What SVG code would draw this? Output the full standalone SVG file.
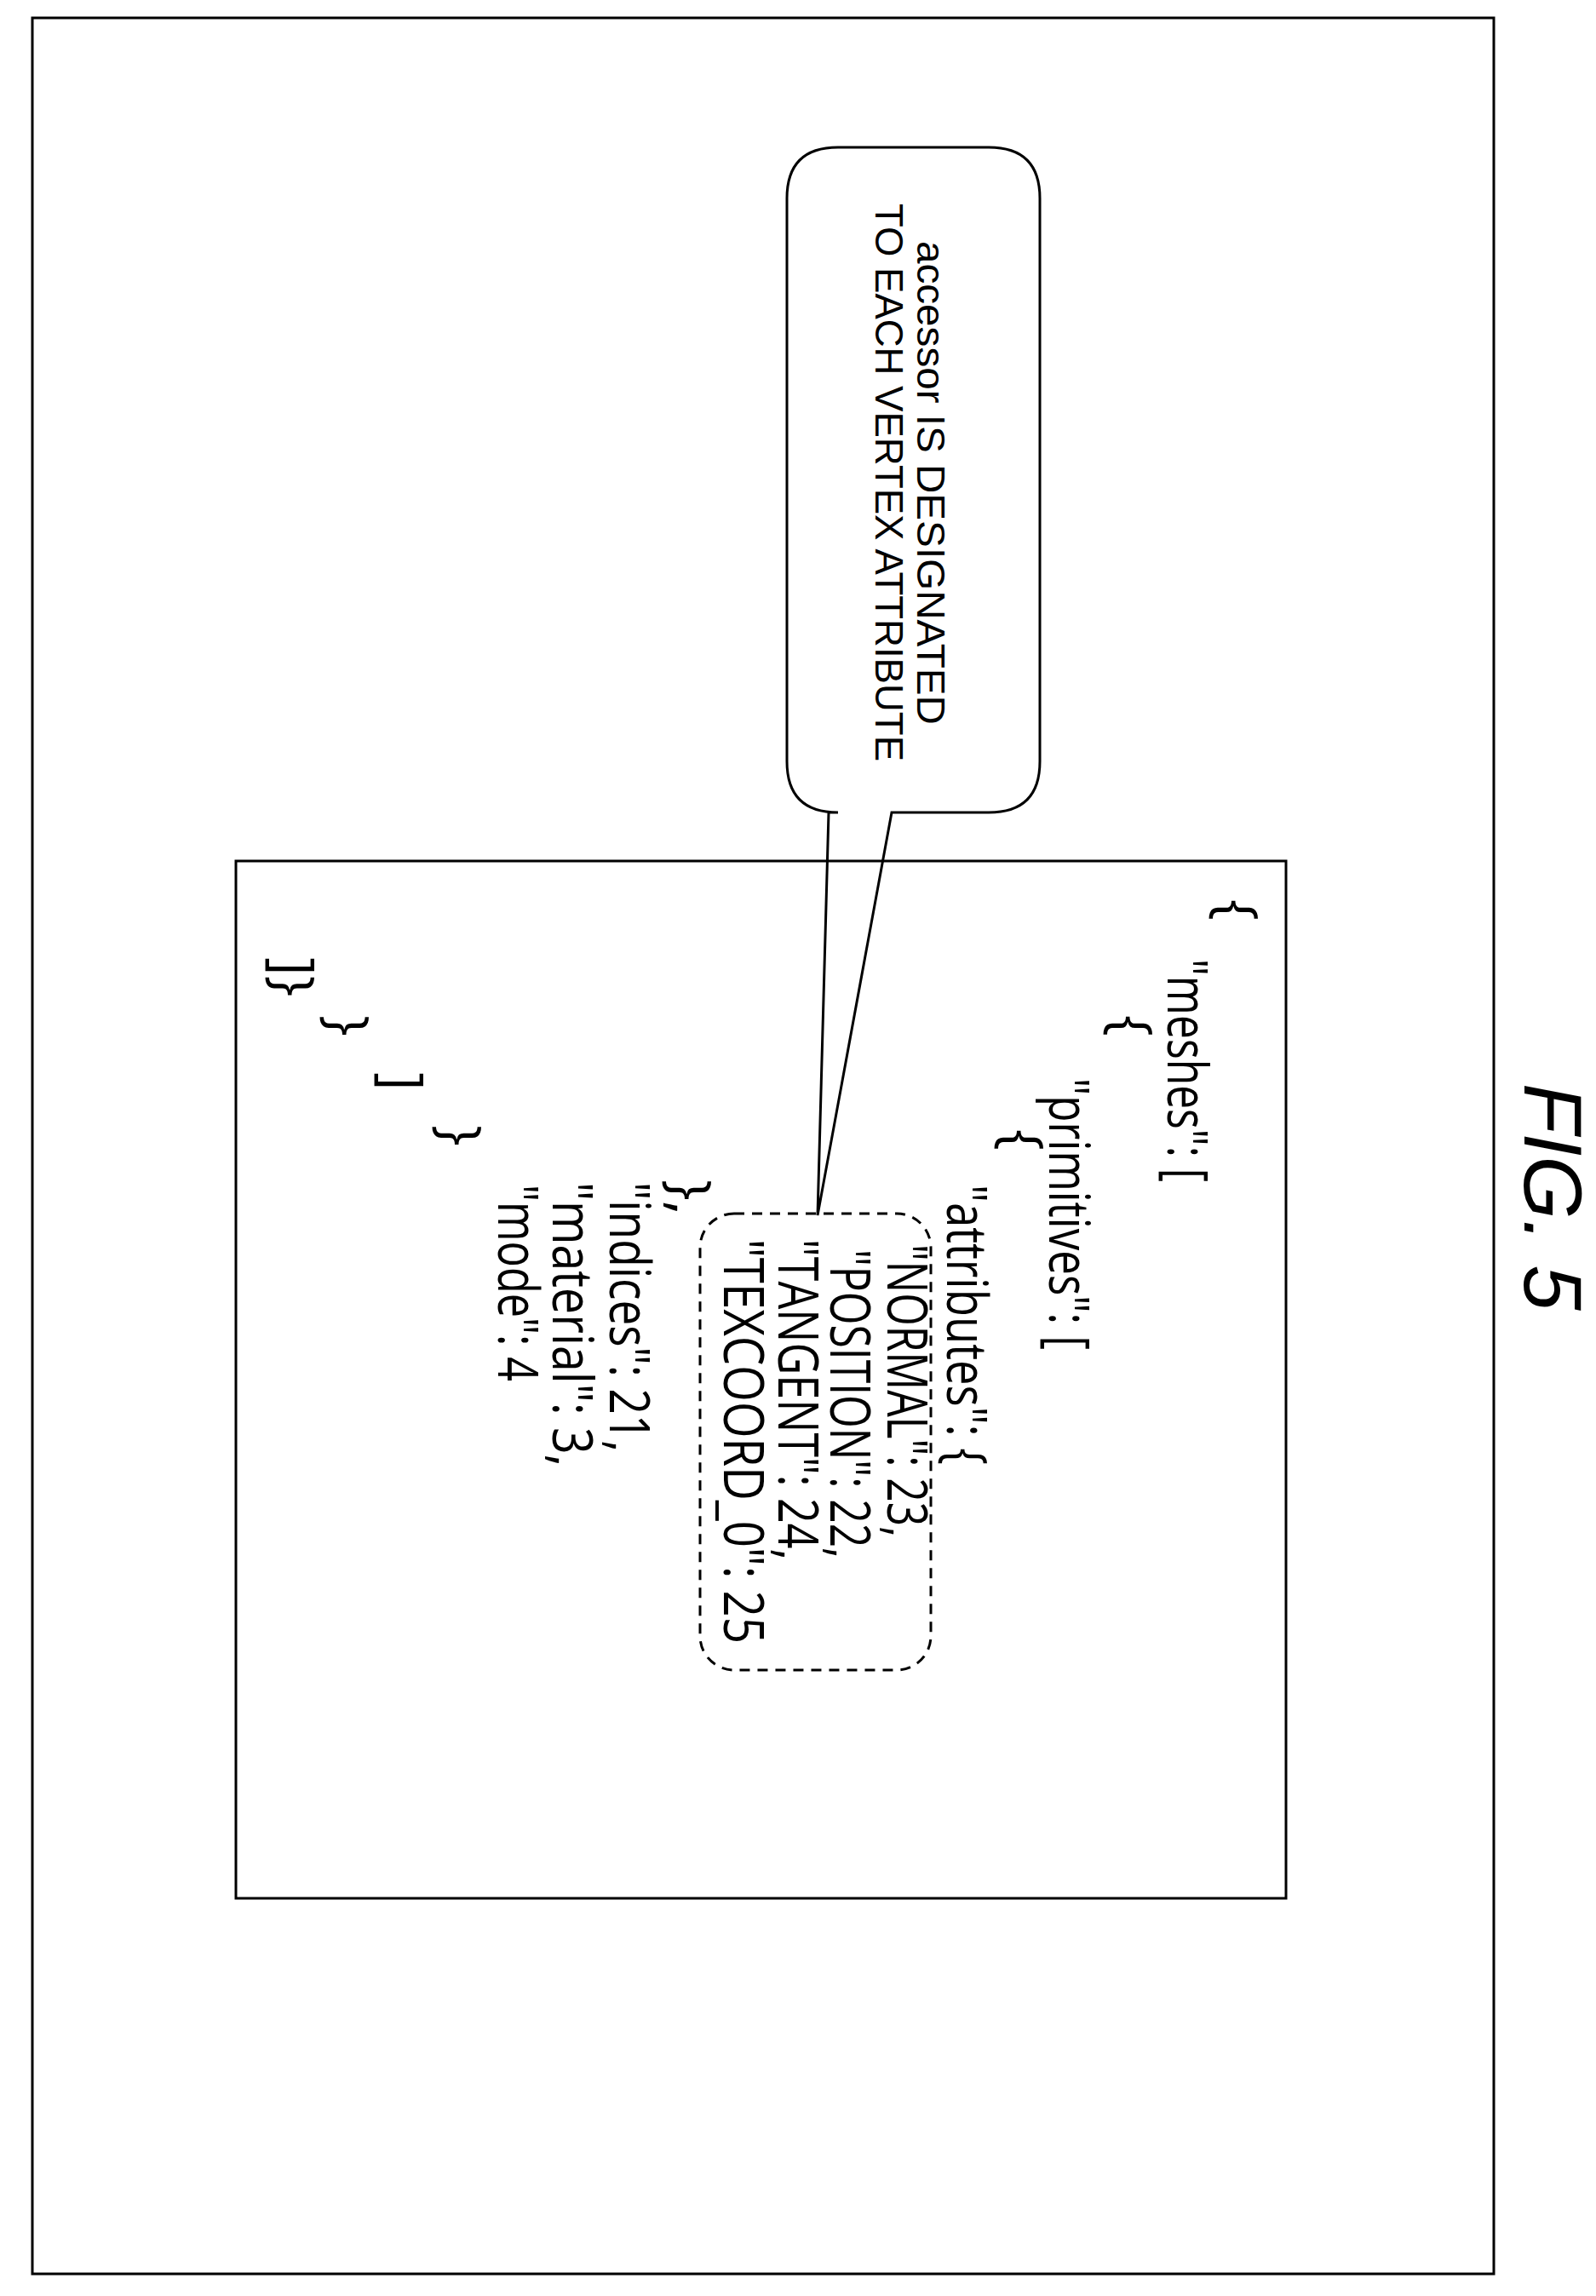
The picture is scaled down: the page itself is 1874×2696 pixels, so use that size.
<svg xmlns="http://www.w3.org/2000/svg" width="1874" height="2696" viewBox="0 0 1874 2696">
<style>
.c{font-family:"Open Sans","DejaVu Sans",sans-serif;font-size:66px;fill:#000}
.n{font-family:"Liberation Sans",Arial,sans-serif;font-size:46px;fill:#000}
.ln{fill:none;stroke:#000;stroke-width:3}
</style>
<rect width="1874" height="2696" fill="#fff"/>
<rect class="ln" x="38" y="21" width="1716" height="2649"/>
<g id="fig"><text transform="translate(1790,1272) rotate(90)" style="font-family:'Liberation Sans',Arial,sans-serif;font-style:italic;font-size:96px">FIG. 5</text></g>
<g id="code-box">
<rect class="ln" x="277" y="1011" width="1233" height="1218"/>
<g class="c">
<text transform="translate(1430,1056) rotate(90)">{</text>
<text transform="translate(1371,1126) rotate(90)" textLength="262" lengthAdjust="spacingAndGlyphs">"meshes": [</text>
<text transform="translate(1306,1192) rotate(90)">{</text>
<text transform="translate(1232,1266) rotate(90)" textLength="319" lengthAdjust="spacingAndGlyphs">"primitives": [</text>
<text transform="translate(1178,1326) rotate(90)">{</text>
<text transform="translate(1112,1391) rotate(90)" textLength="329" lengthAdjust="spacingAndGlyphs">"attributes": {</text>
<text transform="translate(1042,1461) rotate(90)" textLength="344" lengthAdjust="spacingAndGlyphs">"NORMAL": 23,</text>
<text transform="translate(975,1467) rotate(90)" textLength="363" lengthAdjust="spacingAndGlyphs">"POSITION": 22,</text>
<text transform="translate(914,1455) rotate(90)" textLength="377" lengthAdjust="spacingAndGlyphs">"TANGENT": 24,</text>
<text transform="translate(850,1455) rotate(90)" textLength="475" lengthAdjust="spacingAndGlyphs">"TEXCOORD_0": 25</text>
<text transform="translate(788,1385) rotate(90)">},</text>
<text transform="translate(716,1388) rotate(90)" textLength="317" lengthAdjust="spacingAndGlyphs">"indices": 21,</text>
<text transform="translate(649,1388) rotate(90)" textLength="334" lengthAdjust="spacingAndGlyphs">"material": 3,</text>
<text transform="translate(585,1391) rotate(90)" textLength="231" lengthAdjust="spacingAndGlyphs">"mode": 4</text>
<text transform="translate(518,1321) rotate(90)">}</text>
<text transform="translate(450,1259) rotate(90)">]</text>
<text transform="translate(386,1192) rotate(90)">}</text>
<text transform="translate(322,1124) rotate(90)">]}</text>
</g>
</g>
<g id="attr-highlight">
<rect class="ln" x="822" y="1425" width="271" height="536" rx="40" stroke-dasharray="12,9"/>
</g>
<g id="callout">
<path class="ln" fill="#fff" d="M973,954 L960,1427 L1047,954 L1161,954 Q1221,954 1221,894 L1221,233 Q1221,173 1161,173 L984,173 Q924,173 924,233 L924,894 Q924,954 984,954 Z"/>
<text class="n" transform="translate(1077,283) rotate(90)" textLength="568" lengthAdjust="spacingAndGlyphs">accessor IS DESIGNATED</text>
<text class="n" transform="translate(1028,239) rotate(90)" textLength="655" lengthAdjust="spacingAndGlyphs">TO EACH VERTEX ATTRIBUTE</text>
</g>
</svg>
